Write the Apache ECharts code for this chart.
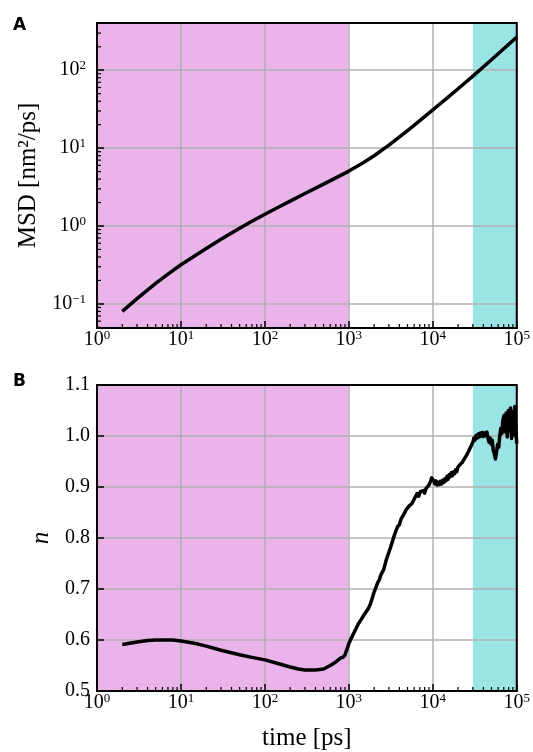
<!DOCTYPE html>
<html>
<head>
<meta charset="utf-8">
<script src="https://cdn.jsdelivr.net/npm/echarts@6/dist/echarts.min.js"></script>
<style>
  html, body { margin: 0; padding: 0; background: #fff; }
  #chart { width: 533px; height: 752px; }
</style>
</head>
<body>
<div id="chart"></div>
<script>
// Panel A: mean squared displacement vs lag time
const msdTime  = [2, 3, 5, 7, 10, 15, 20, 30, 50, 70,
                  100, 150, 200, 300, 500, 700, 1000, 1500, 2000, 3000,
                  5000, 7000, 10000, 15000, 20000, 30000, 50000, 70000, 100000];
const msdValue = [0.080, 0.1167, 0.183, 0.241, 0.318, 0.422, 0.514, 0.674, 0.935, 1.148,
                  1.414, 1.778, 2.085, 2.61, 3.45, 4.15, 5.07, 6.52, 7.97, 10.94,
                  16.8, 22.5, 30.9, 44.5, 57.8, 84, 136.5, 188.5, 266];

// Panel B: local diffusion exponent n vs lag time
const expTime = [
  2, 3, 4, 5, 6, 8, 10, 15, 20, 30,
  50, 70, 100, 150, 200, 250, 300, 400, 500, 600,
  700, 800, 850, 900, 1000, 1100, 1200, 1300, 1400, 1500,
  1600, 1700, 1800, 1900, 2000, 2100, 2200, 2300, 2400, 2500,
  2600, 2700, 2800, 2900, 3000, 3200, 3400, 3600, 3800, 4000,
  4200, 4400, 4600, 4800, 5000, 5300, 5600, 5900, 6200, 6500,
  6800, 7100, 7400, 7700, 8000, 8300, 8600, 9000, 9400, 9700,
  10000, 10300, 10600, 10900, 11300, 11600, 12000, 12300, 12700, 13100,
  13500, 13900, 14300, 14800, 15200, 15700, 16100, 16600, 17100, 17700,
  18200, 18700, 19300, 19900, 20500, 21100, 21700, 22400, 23000, 23700,
  24400, 25200, 25900, 26700, 27500, 28300, 29200, 30000,
  30900, 31800, 32800, 33800, 34800, 35800, 36900, 38000, 39100, 40300,
  41500, 42700, 44000, 45300, 46700, 48100, 49500, 51000, 52500, 54100,
  55700, 57400, 59100, 60900, 62700, 64600, 66500, 68500, 70600, 72700,
  74900, 77100, 79400, 81800, 84300, 86800, 89400, 92100, 94800, 97700,
  100000
];
const expValue = [
  0.591, 0.596, 0.599, 0.600, 0.600, 0.600, 0.598, 0.593, 0.588, 0.580,
  0.571, 0.566, 0.561, 0.553, 0.547, 0.543, 0.541, 0.541, 0.543, 0.550,
  0.557, 0.565, 0.566, 0.571, 0.593, 0.608, 0.620, 0.632, 0.640, 0.648,
  0.655, 0.661, 0.670, 0.682, 0.694, 0.703, 0.712, 0.718, 0.727, 0.733,
  0.738, 0.748, 0.758, 0.765, 0.772, 0.786, 0.800, 0.812, 0.822, 0.826,
  0.838, 0.843, 0.846, 0.855, 0.853, 0.864, 0.867, 0.874, 0.876, 0.887,
  0.882, 0.891, 0.888, 0.893, 0.888, 0.897, 0.899, 0.904, 0.911, 0.918,
  0.918, 0.911, 0.906, 0.912, 0.904, 0.909, 0.905, 0.911, 0.906, 0.913,
  0.909, 0.916, 0.912, 0.921, 0.915, 0.924, 0.920, 0.928, 0.922, 0.930,
  0.926, 0.934, 0.930, 0.939, 0.936, 0.944, 0.941, 0.948, 0.946, 0.955,
  0.952, 0.962, 0.960, 0.970, 0.968, 0.979, 0.977, 0.988,
  0.996, 0.992, 1.001, 0.996, 1.004, 0.998, 1.006, 1.000, 1.007, 0.999,
  1.006, 1.001, 1.008, 0.997, 0.988, 0.996, 0.984, 0.992, 0.972, 0.965,
  0.955, 0.968, 0.984, 0.978, 1.000, 1.015, 1.005, 1.032, 1.040, 1.008,
  1.045, 0.998, 1.050, 1.010, 1.055, 0.995, 1.048, 1.002, 1.058, 1.010,
  0.985
];

// Shaded time regimes
const regimeStart = [1, 30000];
const regimeEnd   = [1000, 100000];
const regimeColor = ['#eab3ea', '#9ae4e5'];

// Axis ranges and ticks
const timeMin = 1, timeMax = 100000;
const msdMin = 0.049, msdMax = 404;
const nMin = 0.5, nMax = 1.1, nStep = 0.1;

const SERIF = 'Liberation Serif, Times New Roman, serif';
const GRID_COLOR = '#b0b0b0';

function zip(a, b) { return a.map((v, i) => [v, b[i]]); }

function powLabel(v) {
  const e = Math.log10(v);
  const r = Math.round(e);
  if (Math.abs(e - r) > 1e-6) return '';
  return '{b|10}{e|' + (r < 0 ? '\u2212' + (-r) : String(r)) + '}';
}
const powRich = {
  b: { fontFamily: SERIF, fontSize: 20, color: '#000', lineHeight: 22 },
  e: { fontFamily: SERIF, fontSize: 13, color: '#000', lineHeight: 13, verticalAlign: 'top' }
};

// minor tick positions on log axes (2..9 x 10^k)
function minorLogTicks(lo, hi) {
  const out = [];
  for (let k = Math.floor(Math.log10(lo)); k <= Math.ceil(Math.log10(hi)); k++) {
    for (let m = 2; m <= 9; m++) {
      const v = m * Math.pow(10, k);
      if (v > lo && v < hi) out.push(v);
    }
  }
  return out;
}
const xMinor = minorLogTicks(timeMin, timeMax);
const yMinor = minorLogTicks(msdMin, msdMax);

function logXAxis(gridIndex) {
  return {
    type: 'log', logBase: 10, gridIndex, min: timeMin, max: timeMax, z: 1,
    axisLine: { show: true, lineStyle: { color: '#000', width: 2 } },
    axisTick: { show: true, inside: true, length: 7, lineStyle: { color: '#000', width: 1.5 } },
    minorTick: { show: false },
    splitLine: { show: true, lineStyle: { color: GRID_COLOR, width: 1.5 } },
    axisLabel: {
      formatter: powLabel, rich: powRich, margin: 1,
      showMinLabel: true, showMaxLabel: true, hideOverlap: false
    }
  };
}

function bandSeries(xAxisIndex, yAxisIndex, yRef) {
  return {
    type: 'custom', xAxisIndex, yAxisIndex, z: 0, silent: true, clip: false,
    encode: { x: [0, 1], y: 2 },
    data: regimeStart.map((s, i) => ({ value: [s, regimeEnd[i], yRef], itemStyle: { color: regimeColor[i] } })),
    renderItem(params, api) {
      const cs = params.coordSys;
      const x0 = api.coord([api.value(0), yRef])[0];
      const x1 = api.coord([api.value(1), yRef])[0];
      return { type: 'rect', shape: { x: x0, y: cs.y, width: x1 - x0, height: cs.height },
               style: { fill: api.visual('color') } };
    }
  };
}

function xMinorSeries(xAxisIndex, yAxisIndex, yRef) {
  return {
    type: 'custom', xAxisIndex, yAxisIndex, z: 3, silent: true, clip: false,
    data: xMinor.map(v => [v, yRef]),
    renderItem(params, api) {
      const cs = params.coordSys;
      const x = api.coord([api.value(0), yRef])[0];
      const yb = cs.y + cs.height;
      return { type: 'line', shape: { x1: x, y1: yb, x2: x, y2: yb - 4 },
               style: { stroke: '#000', lineWidth: 1.2 } };
    }
  };
}

const chart = echarts.init(document.getElementById('chart'), null, { renderer: 'canvas' });

chart.setOption({
  animation: false,
  backgroundColor: '#fff',
  grid: [
    { left: 97, top: 23, width: 421, height: 305, show: true, z: 4,
      borderColor: '#000', borderWidth: 2, backgroundColor: 'transparent' },
    { left: 97, top: 385, width: 421, height: 306, show: true, z: 4,
      borderColor: '#000', borderWidth: 2, backgroundColor: 'transparent' }
  ],
  xAxis: [
    logXAxis(0),
    Object.assign(logXAxis(1), {
      name: 'time [ps]', nameLocation: 'middle', nameGap: 35,
      nameTextStyle: { fontFamily: SERIF, fontSize: 25, color: '#000' }
    })
  ],
  yAxis: [
    {
      type: 'log', logBase: 10, gridIndex: 0, min: msdMin, max: msdMax, z: 1,
      name: 'MSD [nm\u00B2/ps]', nameLocation: 'middle', nameGap: 45,
      nameTextStyle: { fontFamily: SERIF, fontSize: 25, color: '#000' },
      axisLine: { show: true, lineStyle: { color: '#000', width: 2 } },
      axisTick: { show: true, inside: true, length: 7, lineStyle: { color: '#000', width: 1.5 } },
      splitLine: { show: true, lineStyle: { color: GRID_COLOR, width: 1.5 } },
      axisLabel: { formatter: powLabel, rich: powRich, margin: 11, hideOverlap: false }
    },
    {
      type: 'value', gridIndex: 1, min: nMin, max: nMax, interval: nStep, z: 1,
      name: 'n', nameLocation: 'middle', nameGap: 38,
      nameTextStyle: { fontFamily: SERIF, fontSize: 25, fontStyle: 'italic', color: '#000' },
      axisLine: { show: true, lineStyle: { color: '#000', width: 2 } },
      axisTick: { show: true, inside: true, length: 7, lineStyle: { color: '#000', width: 1.5 } },
      splitLine: { show: true, lineStyle: { color: GRID_COLOR, width: 1.5 } },
      axisLabel: {
        fontFamily: SERIF, fontSize: 20, color: '#000', margin: 7,
        formatter: v => v.toFixed(1), showMinLabel: true, showMaxLabel: true
      }
    }
  ],
  series: [
    bandSeries(0, 0, 1),
    bandSeries(1, 1, 0.8),
    xMinorSeries(0, 0, 1),
    xMinorSeries(1, 1, 0.8),
    {
      // minor ticks on the MSD axis
      type: 'custom', xAxisIndex: 0, yAxisIndex: 0, z: 3, silent: true, clip: false,
      data: yMinor.map(v => [1, v]),
      renderItem(params, api) {
        const cs = params.coordSys;
        const y = api.coord([1, api.value(1)])[1];
        return { type: 'line', shape: { x1: cs.x, y1: y, x2: cs.x + 4, y2: y },
                 style: { stroke: '#000', lineWidth: 1.2 } };
      }
    },
    {
      type: 'line', xAxisIndex: 0, yAxisIndex: 0, z: 3,
      data: zip(msdTime, msdValue), showSymbol: false,
      lineStyle: { color: '#000', width: 3.5, join: 'round' }
    },
    {
      type: 'line', xAxisIndex: 1, yAxisIndex: 1, z: 3,
      data: zip(expTime, expValue), showSymbol: false,
      lineStyle: { color: '#000', width: 3.5, join: 'round' }
    }
  ],
  graphic: [
    { type: 'text', left: 13, top: 17, style: { text: 'A', font: 'bold 17px "DejaVu Sans"', fill: '#000' } },
    { type: 'text', left: 13, top: 373, style: { text: 'B', font: 'bold 17px "DejaVu Sans"', fill: '#000' } }
  ]
});
</script>
</body>
</html>
